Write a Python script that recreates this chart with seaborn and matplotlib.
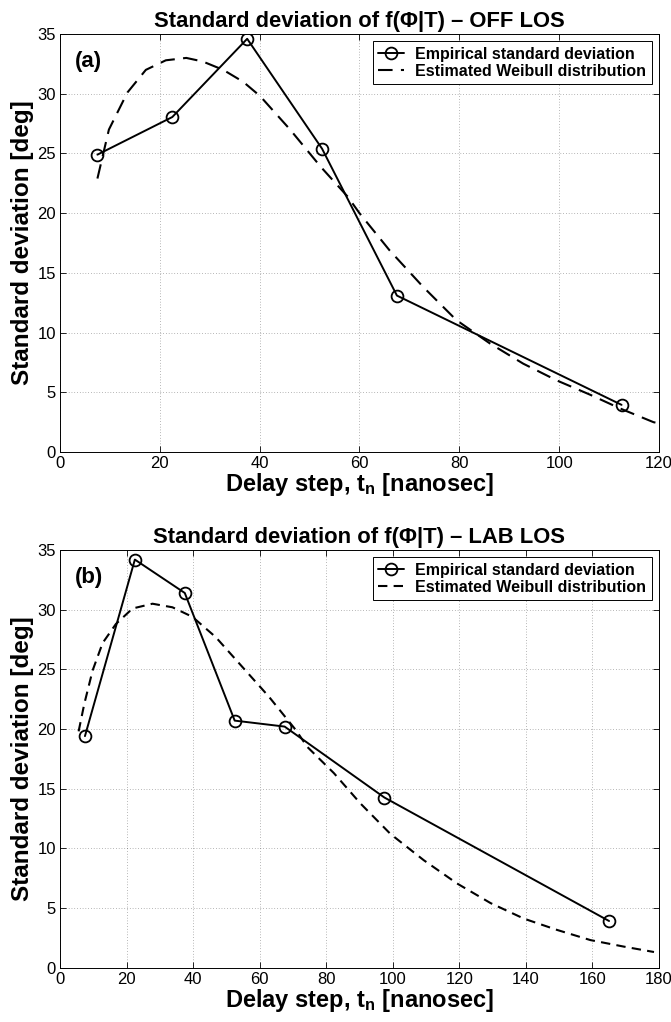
import matplotlib
matplotlib.use('Agg')
import matplotlib.pyplot as plt
import seaborn as sns

# (a) OFF LOS
off_delay = [7.5, 22.5, 37.5, 52.5, 67.5, 112.5]
off_std = [24.9, 28.05, 34.6, 25.4, 13.1, 3.95]
off_fit_x = [7.5, 9.8, 13.5, 17.2, 21.2, 25.3, 28.6, 32.7, 36.7, 40.1, 46.1, 52.2,
             57.6, 60.0, 66.0, 72.7, 79.4, 86.1, 92.8, 99.5, 106.2, 112.2, 118.9, 120.0]
off_fit_y = [22.9, 27.0, 30.1, 32.0, 32.8, 33.0, 32.7, 32.0, 31.0, 29.8, 27.0, 23.9,
             21.4, 20.0, 16.9, 13.85, 11.05, 9.1, 7.4, 6.0, 4.8, 3.65, 2.5, 2.4]

# (b) LAB LOS
lab_delay = [7.5, 22.5, 37.5, 52.5, 67.5, 97.5, 165.0]
lab_std = [19.4, 34.2, 31.4, 20.7, 20.2, 14.25, 3.9]
lab_fit_x = [5.6, 7.3, 9.8, 12.8, 16.8, 21.8, 27.8, 33.8, 39.8, 46.8, 54.8, 62.8,
             70.9, 74.3, 82.3, 90.3, 99.3, 109.3, 119.3, 129.4, 139.4, 149.4, 159.4,
             169.5, 178.5]
lab_fit_y = [19.8, 22.1, 24.9, 27.2, 28.8, 30.1, 30.5, 30.2, 29.4, 27.7, 25.2, 22.7,
             19.9, 18.5, 16.3, 13.75, 11.2, 9.0, 7.05, 5.4, 4.1, 3.15, 2.3, 1.75, 1.3]

panels = [
    ('Standard deviation of f(Φ|T) – OFF LOS', '(a)', off_delay, off_std,
     off_fit_x, off_fit_y, 120, (7, 4)),
    ('Standard deviation of f(Φ|T) – LAB LOS', '(b)', lab_delay, lab_std,
     lab_fit_x, lab_fit_y, 180, (4.5, 3)),
]

sns.set_style('ticks')
plt.rcParams['font.family'] = ['Liberation Sans', 'DejaVu Sans']
plt.rcParams['mathtext.fontset'] = 'custom'
plt.rcParams['mathtext.rm'] = 'Liberation Sans'
plt.rcParams['mathtext.bf'] = 'Liberation Sans:bold'
plt.rcParams['mathtext.it'] = 'Liberation Sans:italic'
for key in ['text.color', 'axes.labelcolor', 'xtick.color', 'ytick.color',
            'axes.edgecolor']:
    plt.rcParams[key] = 'black'

fig = plt.figure(figsize=(6.71, 10.22), dpi=100)
ax_pos = [[0.0894, 0.5577, 0.8927, 0.409], [0.0894, 0.0533, 0.8927, 0.4085]]

for pos, (title, tag, dx, dy, fx, fy, xmax, dash) in zip(ax_pos, panels):
    ax = fig.add_axes(pos)
    sns.lineplot(x=dx, y=dy, ax=ax, color='black', linewidth=1.4, marker='o',
                 markersize=8.5, markerfacecolor='none', markeredgecolor='black',
                 markeredgewidth=1.3, errorbar=None, sort=False,
                 label='Empirical standard deviation')
    sns.lineplot(x=fx, y=fy, ax=ax, color='black', linewidth=1.5, errorbar=None,
                 sort=False, label='Estimated Weibull distribution')
    ax.lines[-1].set_dashes(dash)

    ax.set_xlim(0, xmax)
    ax.set_ylim(0, 35)
    ax.set_xticks(range(0, xmax + 1, 20))
    ax.set_yticks(range(0, 36, 5))
    ax.grid(True, color='black', linestyle=(0, (1, 3)), linewidth=0.5, alpha=0.55)
    ax.tick_params(direction='in', top=True, right=True, labelsize=12, length=4,
                   width=0.6, pad=3)
    for sp in ax.spines.values():
        sp.set_linewidth(0.7)
        sp.set_color('black')

    ax.set_title(title, fontsize=15.8, fontweight='bold', pad=5)
    ax.set_xlabel(r'Delay step, t$_\mathbf{n}$ [nanosec]', fontsize=17,
                  fontweight='bold', labelpad=0)
    ax.set_ylabel('Standard deviation [deg]', fontsize=17.5, fontweight='bold',
                  labelpad=2)
    ax.text(0.025, 0.96, tag, transform=ax.transAxes, fontsize=16,
            fontweight='bold', va='top', ha='left')

    leg = ax.legend(loc='upper right', frameon=True, fancybox=False,
                    borderpad=0.35, handlelength=1.6, handletextpad=0.7,
                    borderaxespad=0.45, labelspacing=0.12,
                    prop={'weight': 'bold', 'size': 11.5})
    leg.get_frame().set_edgecolor('black')
    leg.get_frame().set_linewidth(0.7)
    leg.get_frame().set_alpha(1)

fig.savefig('out.png', dpi=100, facecolor='white')
